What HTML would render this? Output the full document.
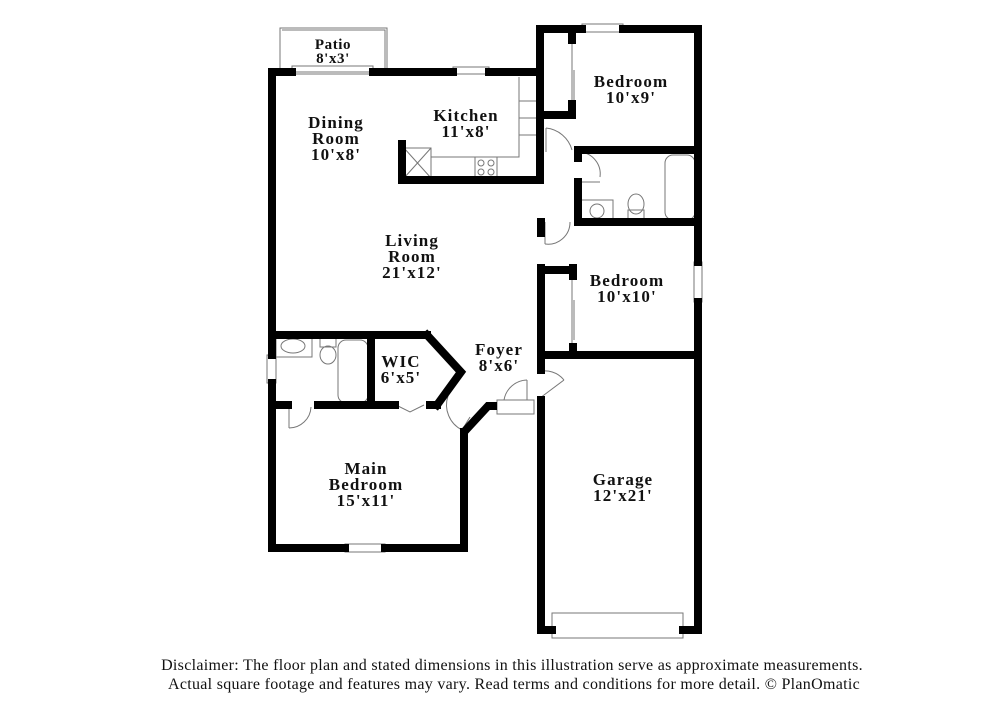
<!DOCTYPE html>
<html><head><style>
html,body{margin:0;padding:0;background:#fff;}
svg{display:block;}
text{font-family:"Liberation Serif",serif;font-weight:bold;fill:#111;text-anchor:middle;}
.d{font-weight:normal;font-size:16px;letter-spacing:0.3px;}
.r{font-size:17px;letter-spacing:1.1px;}
</style></head><body>
<svg width="1000" height="727" viewBox="0 0 1000 727" xmlns="http://www.w3.org/2000/svg">
<g fill="none" stroke="#777" stroke-width="1">
<rect x="280" y="28" width="107" height="44"/>
<polyline points="282,30 385,30 385,70"/>
<rect x="292" y="66" width="81" height="8"/>
<rect x="453" y="67" width="36" height="7"/>
<rect x="582" y="24" width="41" height="8"/>
<rect x="694" y="262" width="8" height="40"/>
<rect x="267" y="355" width="9" height="28"/>
<rect x="345" y="544" width="40" height="8"/>
<rect x="552" y="613" width="131" height="25" fill="#fff"/>
<rect x="497" y="400" width="37" height="14"/>
<polyline points="404,148 431,148 431,178"/>
<line x1="404" y1="148" x2="431" y2="178"/><line x1="431" y1="148" x2="404" y2="178"/>
<polyline points="431,157 519,157 519,77"/>
<rect x="519" y="101" width="20" height="34"/>
<line x1="519" y1="118" x2="539" y2="118"/>
<rect x="475" y="157" width="22" height="20"/>
<circle cx="481" cy="163" r="3"/><circle cx="491" cy="163" r="3"/><circle cx="481" cy="172" r="3"/><circle cx="491" cy="172" r="3"/>
<rect x="665" y="155" width="30" height="65" rx="8"/>
<rect x="580" y="200" width="33" height="20"/>
<circle cx="597" cy="211" r="7"/>
<ellipse cx="636" cy="204" rx="8" ry="10"/>
<rect x="628" y="210" width="16" height="10"/>
<rect x="276" y="337" width="36" height="20"/>
<ellipse cx="293" cy="346" rx="12" ry="7"/>
<ellipse cx="328" cy="355" rx="8" ry="9"/>
<rect x="320" y="337" width="16" height="10"/>
<rect x="338" y="340" width="30" height="63" rx="8"/>
<line x1="572" y1="40" x2="572" y2="103"/><line x1="574" y1="70" x2="574" y2="100"/>
<line x1="572" y1="275" x2="572" y2="347"/><line x1="574" y1="300" x2="574" y2="340"/>
<path d="M546,128 A30,30 0 0 1 572,150"/><line x1="546" y1="128" x2="546" y2="152"/>
<path d="M580,152 A22,22 0 0 1 600,177"/><line x1="577" y1="182" x2="600" y2="182"/>
<path d="M545,244 A22,22 0 0 0 570,222"/><line x1="545" y1="222" x2="545" y2="244"/>
<path d="M538,372 A24,24 0 0 1 564,380"/><line x1="540" y1="398" x2="564" y2="380"/>
<path d="M504,400 A24,24 0 0 1 527,380"/><line x1="527" y1="380" x2="527" y2="400"/>
<path d="M448,396 A28,28 0 0 0 462,430"/><line x1="462" y1="430" x2="470" y2="417"/>
<path d="M289,428 A22,22 0 0 0 311,407"/><line x1="289" y1="407" x2="289" y2="428"/>
<polyline points="396,405 410,412 424,405"/>
</g>
<g stroke="#000" stroke-width="8" fill="none" stroke-linecap="square">
<line x1="272" y1="72" x2="292" y2="72"/>
<line x1="373" y1="72" x2="453" y2="72"/>
<line x1="489" y1="72" x2="540" y2="72"/>
<line x1="540" y1="29" x2="540" y2="180"/>
<line x1="540" y1="29" x2="582" y2="29"/>
<line x1="623" y1="29" x2="698" y2="29"/>
<line x1="698" y1="29" x2="698" y2="262"/>
<line x1="698" y1="302" x2="698" y2="630"/>
<line x1="541" y1="630" x2="552" y2="630"/>
<line x1="683" y1="630" x2="698" y2="630"/>
<line x1="541" y1="400" x2="541" y2="630"/>
<line x1="541" y1="268" x2="541" y2="370"/>
<line x1="541" y1="222" x2="541" y2="233"/>
<line x1="402" y1="180" x2="540" y2="180"/>
<line x1="402" y1="144" x2="402" y2="180"/>
<line x1="543" y1="115" x2="572" y2="115"/>
<line x1="572" y1="104" x2="572" y2="115"/>
<line x1="572" y1="31" x2="572" y2="40"/>
<line x1="578" y1="150" x2="698" y2="150"/>
<line x1="578" y1="150" x2="578" y2="158"/>
<line x1="578" y1="182" x2="578" y2="222"/>
<line x1="578" y1="222" x2="698" y2="222"/>
<line x1="541" y1="270" x2="573" y2="270"/>
<line x1="573" y1="268" x2="573" y2="276"/>
<line x1="573" y1="347" x2="573" y2="355"/>
<line x1="541" y1="355" x2="698" y2="355"/>
<line x1="272" y1="72" x2="272" y2="355"/>
<line x1="272" y1="383" x2="272" y2="548"/>
<line x1="272" y1="548" x2="345" y2="548"/>
<line x1="385" y1="548" x2="464" y2="548"/>
<line x1="464" y1="548" x2="464" y2="432"/>
<polyline points="464,432 488,406 497,406" stroke-linecap="butt"/>
<line x1="276" y1="335" x2="427" y2="335"/>
<polyline points="427,335 461,372 437,405" stroke-linejoin="miter"/>
<line x1="371" y1="335" x2="371" y2="405"/>
<line x1="276" y1="405" x2="288" y2="405"/>
<line x1="318" y1="405" x2="395" y2="405"/>
<line x1="430" y1="405" x2="437" y2="405"/>
</g>
<g class="r">
<text x="333" y="49" font-size="15" letter-spacing="0.6">Patio</text><text x="333" y="63" font-size="15" letter-spacing="0.6">8'x3'</text>
<text x="336" y="128" class="r">Dining</text><text x="336" y="144" class="r">Room</text><text x="336" y="160" class="r">10'x8'</text>
<text x="466" y="121" class="r">Kitchen</text><text x="466" y="137" class="r">11'x8'</text>
<text x="631" y="87" class="r">Bedroom</text><text x="631" y="103" class="r">10'x9'</text>
<text x="412" y="246" class="r">Living</text><text x="412" y="262" class="r">Room</text><text x="412" y="278" class="r">21'x12'</text>
<text x="627" y="286" class="r">Bedroom</text><text x="627" y="302" class="r">10'x10'</text>
<text x="401" y="367" class="r">WIC</text><text x="401" y="383" class="r">6'x5'</text>
<text x="499" y="355" class="r">Foyer</text><text x="499" y="371" class="r">8'x6'</text>
<text x="366" y="474" class="r">Main</text><text x="366" y="490" class="r">Bedroom</text><text x="366" y="506" class="r">15'x11'</text>
<text x="623" y="485" class="r">Garage</text><text x="623" y="501" class="r">12'x21'</text>
</g>
<text class="d" x="512" y="670">Disclaimer: The floor plan and stated dimensions in this illustration serve as approximate measurements.</text>
<text class="d" x="514" y="689">Actual square footage and features may vary. Read terms and conditions for more detail. © PlanOmatic</text>
</svg>
</body></html>
